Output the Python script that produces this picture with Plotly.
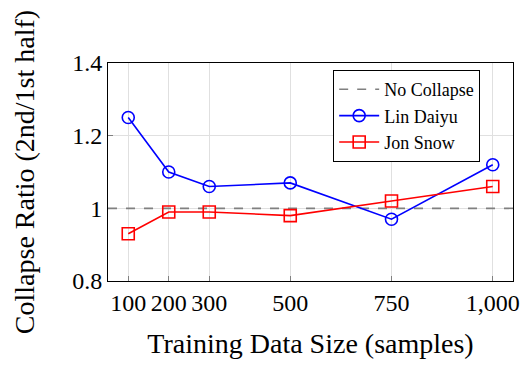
import plotly.graph_objects as go

sizes = [100, 200, 300, 500, 750, 1000]
tick_labels = ["100", "200", "300", "500", "750", "1,000"]
lin_daiyu = [1.25, 1.10, 1.06, 1.07, 0.97, 1.12]
jon_snow = [0.93, 0.99, 0.99, 0.98, 1.02, 1.06]
baseline = 1.0
x_range = [50, 1050]
y_range = [0.8, 1.4]
y_ticks = [0.8, 1.0, 1.2, 1.4]
y_tick_labels = ["0.8", "1", "1.2", "1.4"]

font_family = "Liberation Serif"

fig = go.Figure()
fig.add_trace(go.Scatter(
    x=x_range, y=[baseline, baseline], mode="lines", name="No Collapse",
    line=dict(color="#808080", width=1.6, dash="dash"),
))
fig.add_trace(go.Scatter(
    x=sizes, y=lin_daiyu, mode="lines+markers", name="Lin Daiyu",
    line=dict(color="#0000ff", width=1.6),
    marker=dict(symbol="circle-open", size=12, color="#0000ff", line=dict(width=1.6, color="#0000ff")),
))
fig.add_trace(go.Scatter(
    x=sizes, y=jon_snow, mode="lines+markers", name="Jon Snow",
    line=dict(color="#ff0000", width=1.6),
    marker=dict(symbol="square-open", size=12, color="#ff0000", line=dict(width=1.6, color="#ff0000")),
))

axis_common = dict(
    showgrid=True, gridcolor="#e0e0e0", gridwidth=1,
    showline=True, linecolor="black", linewidth=1, mirror=True,
    ticks="inside", ticklen=5, tickcolor="#808080", tickwidth=1,
    zeroline=False,
    tickfont=dict(family=font_family, size=24, color="black"),
)

fig.update_layout(
    width=532, height=365,
    margin=dict(l=108, r=19, t=63, b=81),
    paper_bgcolor="white", plot_bgcolor="white",
    font=dict(family=font_family, color="black"),
    showlegend=True,
    legend=dict(
        x=0.556, y=0.968, xanchor="left", yanchor="top",
        bgcolor="white", bordercolor="black", borderwidth=1,
        font=dict(family=font_family, size=18, color="black"),
        tracegroupgap=0, itemwidth=40,
    ),
    xaxis=dict(
        range=x_range, tickmode="array", tickvals=sizes, ticktext=tick_labels,
        title=dict(text="Training Data Size (samples)", font=dict(family=font_family, size=28), standoff=18),
        **axis_common,
    ),
    yaxis=dict(
        range=y_range, tickmode="array", tickvals=y_ticks, ticktext=y_tick_labels,
        title=dict(text="Collapse Ratio (2nd/1st half)", font=dict(family=font_family, size=28), standoff=29),
        **axis_common,
    ),
)

fig.write_html("out.html")
